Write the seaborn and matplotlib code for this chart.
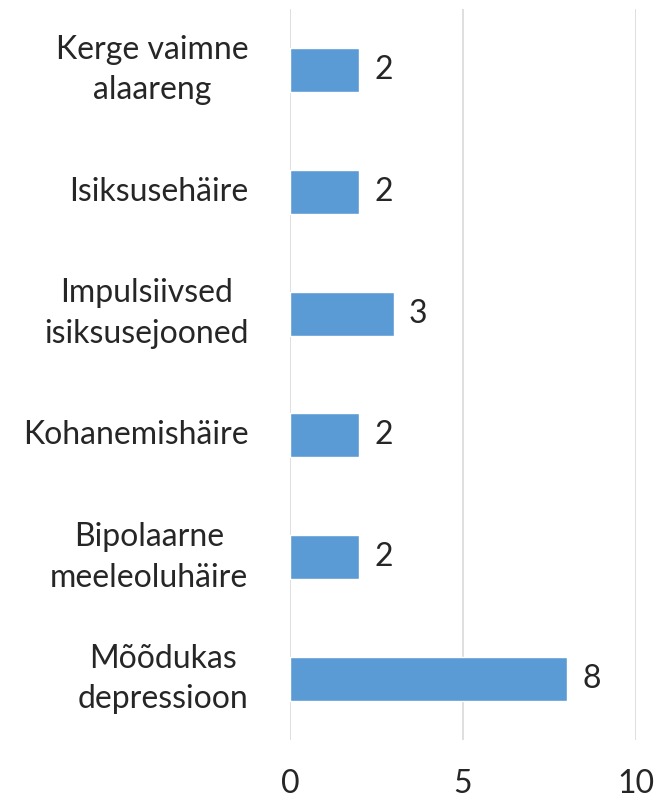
import matplotlib
matplotlib.use("Agg")
import matplotlib.pyplot as plt
import seaborn as sns
import pandas as pd

categories = ["Kerge vaimne\nalaareng", "Isiksusehäire", "Impulsiivsed\nisiksusejooned",
              "Kohanemishäire", "Bipolaarne\nmeeleoluhäire", "Mõõdukas\ndepressioon"]
values = [2, 2, 3, 2, 2, 8]
xticks = [0, 5, 10]

df = pd.DataFrame({"cat": categories, "val": values})

sns.set_style("white")
plt.rcParams["font.family"] = ["Lato", "DejaVu Sans"]

fig = plt.figure(figsize=(6.67, 7.99), dpi=100)
ax = fig.add_axes([290 / 667, 59 / 799, 346 / 667, 731 / 799])

sns.barplot(data=df, x="val", y="cat", orient="h", color="#5B9BD5",
            width=0.36, saturation=1, ax=ax, zorder=3)

fs = 23
ax.set_xlim(0, 10)
ax.set_xticks(xticks)
ax.set_xticklabels([str(t) for t in xticks], fontsize=fs)
ax.tick_params(axis="x", length=0, pad=21)
ax.tick_params(axis="y", length=0, pad=30, labelsize=fs)
for lbl in ax.get_yticklabels():
    lbl.set_horizontalalignment("right")
    lbl.set_verticalalignment("center")
    lbl.set_multialignment("center")
    lbl.set_linespacing(1.45)

ax.grid(axis="x", color="#D9D9D9", linewidth=1.2, zorder=0)
for s in ax.spines.values():
    s.set_visible(False)
ax.set_xlabel("")
ax.set_ylabel("")

ax.bar_label(ax.containers[0], labels=[str(v) for v in values], padding=11, fontsize=fs)

fig.savefig("out.png", dpi=100)
